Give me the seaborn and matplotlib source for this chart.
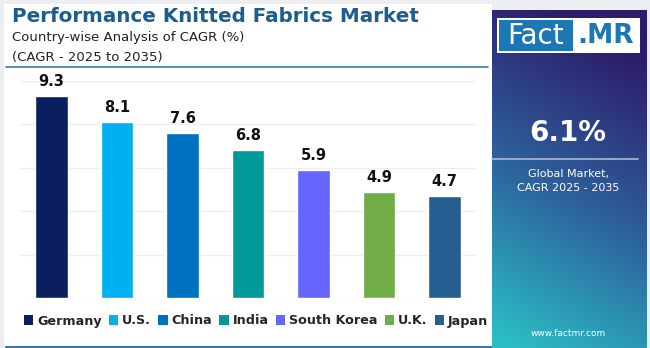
import numpy as np
import matplotlib
matplotlib.use("Agg")
import matplotlib.pyplot as plt
from matplotlib.patches import Rectangle
import seaborn as sns
import pandas as pd

countries = ["Germany", "U.S.", "China", "India", "South Korea", "U.K.", "Japan"]
cagr = [9.3, 8.1, 7.6, 6.8, 5.9, 4.9, 4.7]
colors = ["#0b1f5e", "#00b0f0", "#0070c0", "#00999a", "#6666ff", "#70ad47", "#255e91"]
title = "Performance Knitted Fabrics Market"
subtitle = ["Country-wise Analysis of CAGR (%)", "(CAGR - 2025 to 2035)"]
global_cagr = "6.1%"

sns.set_theme(style="white")
plt.rcParams['font.family'] = ['DejaVu Sans']

W, H = 650, 348
fig = plt.figure(figsize=(6.5, 3.48), dpi=100)
fig.patch.set_facecolor("#eceef1")

# background layer in pixel coordinates
bg = fig.add_axes([0, 0, 1, 1])
bg.set_xlim(0, W)
bg.set_ylim(H, 0)
bg.axis("off")
bg.add_patch(Rectangle((4, 4), 488, 342, facecolor="white", edgecolor="none"))
bg.plot([6, 488], [67, 67], color="#3c78a8", lw=1.2)
bg.plot([6, 492], [346.5, 346.5], color="#3c78a8", lw=1.5)

bg.text(12, 17, title, fontsize=14.3, fontweight="bold", color="#1b5d8f", va="center", ha="left")
bg.text(12, 38, subtitle[0], fontsize=9.5, color="#222222", va="center", ha="left")
bg.text(12, 57, subtitle[1], fontsize=9.5, color="#222222", va="center", ha="left")

# right gradient panel
pax = fig.add_axes([492 / W, 0, (647 - 492) / W, (348 - 10) / H])
pax.axis("off")
gx, gy = np.meshgrid(np.linspace(0, 1, 200), np.linspace(0, 1, 400))
t = np.clip(0.95 * gy + 0.25 * gx - 0.05, 0, 1)  # 0 bottom-left, 1 top-right
c0 = np.array([0x2b, 0xbb, 0xc3]) / 255
c1 = np.array([0x2d, 0x60, 0x9c]) / 255
c2 = np.array([0x2e, 0x1c, 0x6a]) / 255
tt = t[..., None]
img = np.where(tt < 0.5, c0 + (c1 - c0) * (tt / 0.5), c1 + (c2 - c1) * ((tt - 0.5) / 0.5))
pax.imshow(img, origin="lower", aspect="auto", extent=[0, 1, 0, 1])
pax.set_xlim(0, 1)
pax.set_ylim(0, 1)

# top overlay for panel content
ov = fig.add_axes([0, 0, 1, 1])
ov.set_xlim(0, W)
ov.set_ylim(H, 0)
ov.axis("off")
ov.patch.set_alpha(0)
ov.add_patch(Rectangle((497, 18), 143, 35, facecolor="white", edgecolor="none"))
ov.add_patch(Rectangle((499, 20), 74, 31, facecolor="#1b78b4", edgecolor="none"))
ov.text(536, 36, "Fact", fontsize=20, color="white", ha="center", va="center")
ov.text(606, 36, ".MR", fontsize=19, fontweight="bold", color="#1b78b4", ha="center", va="center")

ov.text(568, 133, global_cagr, fontsize=20, fontweight="bold", color="white", ha="center", va="center")
ov.plot([492, 638], [159, 159], color="#a9b8d6", lw=1.2)
ov.text(568, 174, "Global Market,", fontsize=8, color="white", ha="center", va="center")
ov.text(568, 188, "CAGR 2025 - 2035", fontsize=8, color="white", ha="center", va="center")
ov.text(568, 333, "www.factmr.com", fontsize=6.5, color="white", ha="center", va="center")

# bar chart
ax = fig.add_axes([20 / W, (H - 298) / H, 456 / W, 217 / H])
df = pd.DataFrame({"country": countries, "cagr": cagr})
sns.barplot(data=df, x="country", y="cagr", hue="country", palette=colors,
            width=0.49, legend=False, ax=ax, saturation=1)
ax.set_facecolor("none")
ax.set_ylim(0, 10)
ax.set_xlim(-0.48, 6.48)
ax.set_yticks([0, 2, 4, 6, 8, 10])
ax.yaxis.grid(True, color="#eeeeee", lw=0.9)
ax.set_axisbelow(True)
ax.tick_params(left=False, bottom=False, labelleft=False, labelbottom=False)
ax.set_xlabel("")
ax.set_ylabel("")
for s in ax.spines.values():
    s.set_visible(False)
for cont in ax.containers:
    ax.bar_label(cont, fmt="%.1f", padding=5, fontsize=10.5, fontweight="bold", color="#111111")

handles = [Rectangle((0, 0), 1, 1, facecolor=c, edgecolor="none") for c in colors]
leg = fig.legend(handles, countries, loc="center", bbox_to_anchor=(256 / W, 1 - 321 / H),
                 ncol=7, frameon=False, handlelength=0.75, handleheight=0.75,
                 handletextpad=0.3, columnspacing=0.55, prop={"weight": "bold", "size": 9.2})

fig.savefig("out.png", dpi=100, facecolor=fig.get_facecolor())
